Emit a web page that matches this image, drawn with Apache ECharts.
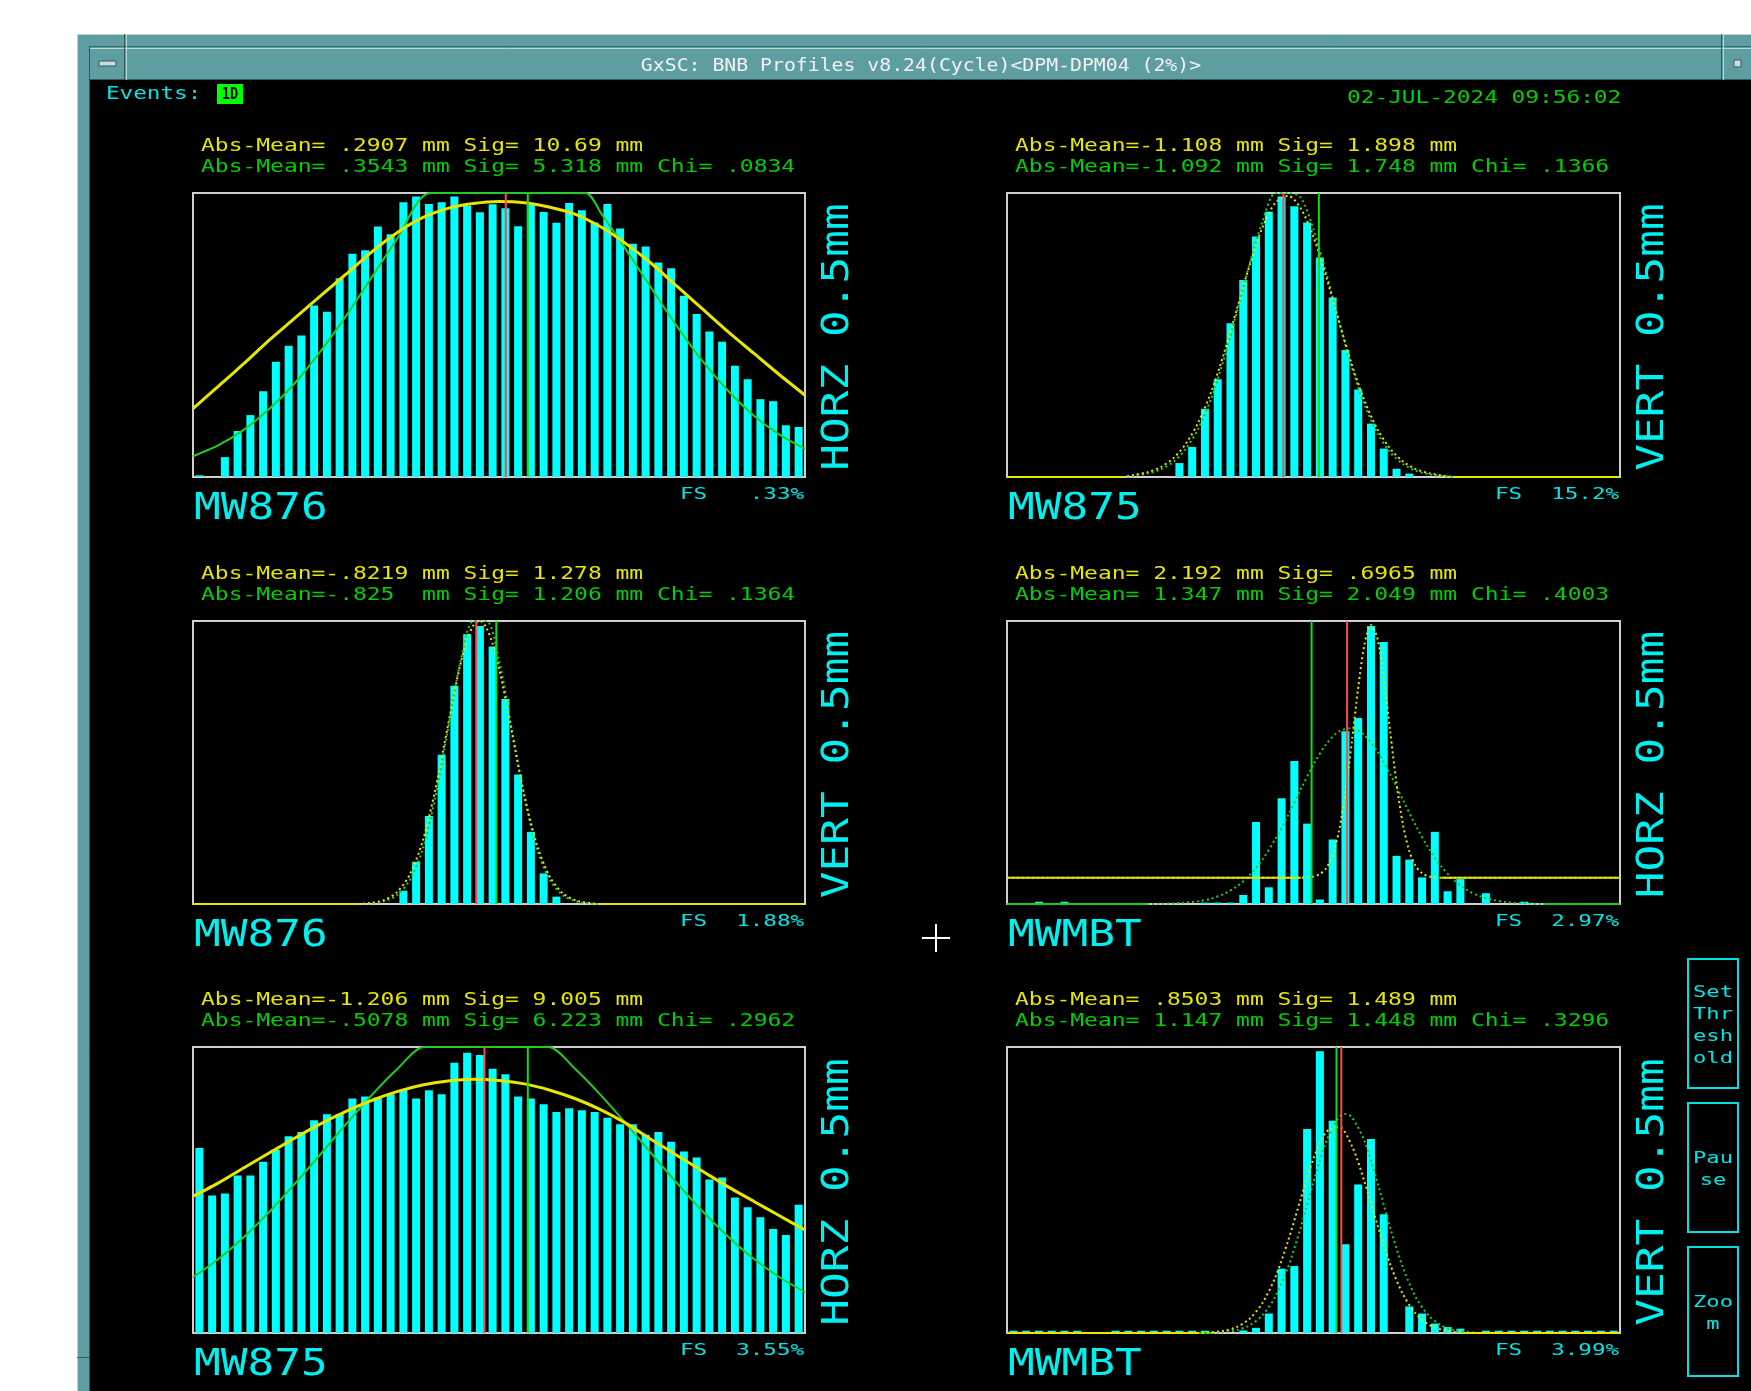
<!DOCTYPE html>
<html>
<head>
<meta charset="utf-8">
<script src="https://cdn.jsdelivr.net/npm/echarts@6/dist/echarts.min.js"></script>
<style>
html,body{margin:0;padding:0;background:#fff;}
#c{width:1751px;height:1391px;}
</style>
</head>
<body>
<div id="c"></div>
<script>
// ---- BNB multiwire profiles: 48 wires per plane, 0.5 mm pitch ----
const WIRES = 48;

// Wire signal, % of full scale, wire 0..47
const mw876HorzCounts = [0.6,0,7,16.2,21.8,30.2,40.6,46.2,49.8,60.4,58.2,70,78.6,79.8,88.2,85.5,96.7,98.8,96.1,96.7,98.8,95.5,93.2,96,94.6,88.3,96.4,93.3,89.5,96.5,93.9,89.6,96.1,87.5,82.1,81.2,75.5,73.5,63.8,57.4,51.2,47.6,39.2,34.4,27.4,26.7,18.2,17.6];
const mw875VertCounts = [0,0,0,0,0,0,0,0,0,0,0,0,0,4.9,10.6,24,34.4,54.1,69.4,84.7,93.4,98.8,95.3,89.6,77.3,63.2,44.7,30.8,18.8,10,2.9,1.2,0,0,0,0,0,0,0,0,0,0,0,0,0,0,0,0];
const mw876VertCounts = [0,0,0,0,0,0,0,0,0,0,0,0,0,0,0,0,4.7,14.9,31.1,52.7,77.1,95.3,98.2,91,72.4,45.8,25.5,10.8,2.6,0,0,0,0,0,0,0,0,0,0,0,0,0,0,0,0,0,0,0];
const mwmbtHorzCounts = [0,0,0.8,0,0.8,0,0,0,0,0,0,0,0,0,0,0.5,0.5,0.5,3.2,29,5.9,37.4,50.5,28.4,1.6,22.8,61,65.7,98.2,92.6,17,15.7,9.4,25.5,4.5,8.8,0,3.8,0,0,0.8,0,0,0,0,0,0,0];
const mw875HorzCounts = [64.7,48.1,48.8,55.1,55.1,59.9,64.1,68.8,70.3,74.4,76.5,76.6,82,82.7,82.3,83.5,85.2,82,84.9,83.5,94.5,98,97.2,92.4,90.5,82.7,82,80,77.3,78.6,77.9,77.3,75.3,73,73,69.3,70.3,66.9,63.5,61.4,53.7,54.4,47.4,44,40.5,36.4,34.3,44.8];
const mwmbtVertCounts = [0.8,0.8,0.8,0.8,0.8,0.8,0,0,0.8,0.8,0.8,0.8,0.8,0.8,0.8,0.8,0,0,0.9,1.8,6.8,22.5,23.4,71.3,98.5,74.2,31,51.9,67.8,41.5,0,9.3,6.8,3.3,2.1,1.5,0,0.8,0.8,0.8,0.8,0.8,0.8,0.8,0.8,0.8,0.8,0.8];

// Gaussian curves, [wire position, % of full scale] (yellow = raw moments, green = fit)
const mw876HorzYellow = [[0,24.1],[2,32],[4,40],[6,48.3],[8,56],[10,63.8],[12,71.4],[14,79.2],[16,86],[18,91.3],[20,94.6],[22,96.3],[24,97],[26,96.6],[28,95],[30,92.5],[32,88],[34,82],[36,75],[38,67],[40,59],[42,51],[44,43.5],[46,36],[48,28.8]];
const mw876HorzGreen = [[0,7.3],[2,11.2],[4,16.7],[6,24],[8,33.1],[10,44.2],[12,56.7],[14,70.2],[16,83.8],[18.6,100],[30.8,100],[32,92.9],[34,79.8],[36,66.1],[38,52.8],[40,40.6],[42,30.2],[44,21.6],[46,14.9],[48,9.9]];
const mw875VertYellow = [[0,0],[9,0],[10,0.8],[11,1.7],[12,3.4],[13,6.5],[14,11.7],[15,19.4],[16,30.1],[17,43.7],[18,59.1],[19,74.6],[20,87.8],[21,96.5],[22,99],[23,94.6],[24,84.5],[25,70.4],[26,54.7],[27,39.6],[28,26.8],[29,16.9],[30,10],[31,5.5],[32,2.8],[33,1.4],[34,0.6],[35,0],[48,0]];
const mw875VertGreen = [[0,0],[9,0],[10,0.5],[11,1.2],[12,2.6],[13,5.2],[14,9.9],[15,17.2],[16,27.8],[17,41.8],[18,58.1],[19,75.1],[20,89.9],[21,99.9],[22,100],[23,98.4],[24,87.2],[25,71.8],[26,54.7],[27,38.7],[28,25.4],[29,15.5],[30,8.7],[31,4.6],[32,2.2],[33,1],[34,0.4],[35,0],[48,0]];
const mw876VertYellow = [[0,0],[13,0],[14,0.4],[15,1.4],[16,4.2],[17,10.4],[18,22],[19,40.3],[20,63.2],[20.5,74.8],[21,85.2],[21.5,93.3],[22,98.5],[22.5,100],[23,97.7],[23.5,91.9],[24,83.3],[24.5,72.6],[25,60.9],[26,38.2],[27,20.6],[28,9.5],[29,3.8],[30,1.3],[31,0.4],[32,0],[48,0]];
const mw876VertGreen = [[0,0],[13,0],[14,0.25],[15,1],[16,3.1],[17,8.4],[18,19.2],[19,37.5],[20,61.8],[21,86.2],[22,100],[23,100],[24,86.2],[25,61.8],[26,37.5],[27,19.2],[28,8.4],[29,3.1],[30,1],[31,0.25],[32,0],[48,0]];
const mwmbtHorzYellow = [[0,9.3],[23,9.3],[24,9.7],[24.5,10.6],[25,12.7],[25.5,17.3],[26,25.9],[26.5,39.4],[27,57.2],[27.5,76.4],[28,91.9],[28.5,98.6],[29,94],[29.5,80],[30,61.1],[30.5,42.6],[31,28.2],[31.5,18.7],[32,13.4],[32.5,10.9],[33,9.8],[34,9.3],[48,9.3]];
const mwmbtHorzGreen = [[0,0],[11,0],[12,0.1],[13,0.2],[14,0.5],[15,1],[16,1.9],[17,3.6],[18,6.2],[19,10.2],[20,15.7],[21,22.9],[22,31.3],[23,40.5],[24,49.3],[25,56.5],[26,61],[27,62.1],[28,59.6],[29,53.9],[30,45.9],[31,36.8],[32,27.8],[33,19.8],[34,13.3],[35,8.4],[36,5],[37,2.8],[38,1.5],[39,0.7],[40,0.35],[41,0.15],[42,0],[48,0]];
const mw875HorzYellow = [[0,47.8],[2,52.5],[4,57.8],[6,63],[8,68.2],[10,73.1],[12,77.5],[14,81.3],[16,84.4],[18,86.7],[20,88.1],[22,88.7],[24,88.3],[26,87.1],[28,84.9],[30,81.9],[32,78],[34,73.2],[36,67.5],[38,62],[40,56.5],[42,51],[44,46],[46,41],[48,36]];
const mw875HorzGreen = [[0,19.5],[2,25.9],[4,33.6],[6,42.4],[8,52.2],[10,62.5],[12,73],[14,83.1],[16,92.2],[18.1,100],[27.9,100],[30,92.2],[32,83.1],[34,73],[36,62.5],[38,52.2],[40,42.4],[42,33.6],[44,25.9],[46,19.5],[48,14.3]];
const mwmbtVertYellow = [[0,0],[15,0],[16,0.3],[17,0.8],[18,2.1],[19,5],[20,10.5],[21,19.4],[22,32.1],[23,46.9],[24,61],[25,70.3],[26,72],[27,65.5],[28,52.8],[29,37.9],[30,24.1],[31,13.6],[32,6.8],[33,3],[34,1.2],[35,0.4],[36,0],[48,0]];
const mwmbtVertGreen = [[0,0],[16,0],[17,0.4],[18,1],[19,2.7],[20,6.2],[21,12.6],[22,22.9],[23,36.9],[24,52.8],[25,67],[26,75.5],[26.5,76.6],[27,75.5],[28,67],[29,52.8],[30,36.9],[31,22.9],[32,12.6],[33,6.2],[34,2.7],[35,1],[36,0.4],[37,0],[48,0]];

// Mean markers in wire-position units: red = raw mean, green = fit mean
const rawMeanPos = [24.53, 21.64, 22.22, 26.63, 22.86, 26.18];
const fitMeanPos = [26.26, 24.42, 23.79, 23.85, 26.26, 25.8];

// Labels
const detectorNames = ['MW876', 'MW875', 'MW876', 'MWMBT', 'MW875', 'MWMBT'];
const planeLabels = ['HORZ 0.5mm', 'VERT 0.5mm', 'VERT 0.5mm', 'HORZ 0.5mm', 'HORZ 0.5mm', 'VERT 0.5mm'];
const fullScaleLabels = ['.33%', '15.2%', '1.88%', '2.97%', '3.55%', '3.99%'];
const rawStatsLines = [
  'Abs-Mean= .2907 mm Sig= 10.69 mm',
  'Abs-Mean=-1.108 mm Sig= 1.898 mm',
  'Abs-Mean=-.8219 mm Sig= 1.278 mm',
  'Abs-Mean= 2.192 mm Sig= .6965 mm',
  'Abs-Mean=-1.206 mm Sig= 9.005 mm',
  'Abs-Mean= .8503 mm Sig= 1.489 mm'
];
const fitStatsLines = [
  'Abs-Mean= .3543 mm Sig= 5.318 mm Chi= .0834',
  'Abs-Mean=-1.092 mm Sig= 1.748 mm Chi= .1366',
  'Abs-Mean=-.825  mm Sig= 1.206 mm Chi= .1364',
  'Abs-Mean= 1.347 mm Sig= 2.049 mm Chi= .4003',
  'Abs-Mean=-.5078 mm Sig= 6.223 mm Chi= .2962',
  'Abs-Mean= 1.147 mm Sig= 1.448 mm Chi= .3296'
];
const windowTitle = 'GxSC: BNB Profiles v8.24(Cycle)<DPM-DPM04 (2%)>';
const eventsLabel = 'Events:';
const eventsValue = '1D';
const timestampLabel = '02-JUL-2024 09:56:02';
const buttonLabels = [['Set', 'Thr', 'esh', 'old'], ['Pau', 'se'], ['Zoo', 'm']];

// ---- layout ----
const panelLayout = [
  { left: 193,  top: 193,  w: 612, h: 284, broad: true },
  { left: 1007, top: 193,  w: 613, h: 284, broad: false },
  { left: 193,  top: 621,  w: 612, h: 283, broad: false },
  { left: 1007, top: 621,  w: 613, h: 283, broad: false },
  { left: 193,  top: 1047, w: 612, h: 286, broad: true },
  { left: 1007, top: 1047, w: 613, h: 286, broad: false }
];
const countsByPanel = [mw876HorzCounts, mw875VertCounts, mw876VertCounts, mwmbtHorzCounts, mw875HorzCounts, mwmbtVertCounts];
const yellowByPanel = [mw876HorzYellow, mw875VertYellow, mw876VertYellow, mwmbtHorzYellow, mw875HorzYellow, mwmbtVertYellow];
const greenByPanel = [mw876HorzGreen, mw875VertGreen, mw876VertGreen, mwmbtHorzGreen, mw875HorzGreen, mwmbtVertGreen];

const CYAN = '#00ffff';
const YELLOW = '#e6e600';
const RED = '#ff4a4a';
const TEAL = '#5f9ea0';
const MONO = '"DejaVu Sans Mono", "Liberation Mono", monospace';

// keep only the flat (baseline) stretch of a curve, gaps elsewhere
function flatPart(pts) {
  const base = pts[0][1];
  return pts.map(p => (p[1] === base ? p : [p[0], '-']));
}

const grids = [], xAxes = [], yAxes = [], series = [];
panelLayout.forEach((p, i) => {
  grids.push({ left: p.left, top: p.top, width: p.w, height: p.h, show: true,
    borderColor: '#d0d0d0', borderWidth: 2, backgroundColor: 'transparent' });
  xAxes.push({ gridIndex: i, type: 'value', min: 0, max: WIRES, show: false });
  yAxes.push({ gridIndex: i, type: 'value', min: 0, max: 100, show: false });

  series.push({ type: 'bar', xAxisIndex: i, yAxisIndex: i, barWidth: 8, z: 2,
    data: countsByPanel[i].map((v, k) => [k + 0.5, v]),
    itemStyle: { color: CYAN } });

  if (p.broad) {
    series.push({ type: 'line', xAxisIndex: i, yAxisIndex: i, data: greenByPanel[i], smooth: 0.25,
      showSymbol: false, z: 3, lineStyle: { color: '#22cc22', width: 2 } });
    series.push({ type: 'line', xAxisIndex: i, yAxisIndex: i, data: yellowByPanel[i], smooth: 0.25,
      showSymbol: false, z: 4, lineStyle: { color: YELLOW, width: 3 } });
  } else {
    [[greenByPanel[i], '#22cc22', 3], [yellowByPanel[i], YELLOW, 4]].forEach(([pts, col, z]) => {
      series.push({ type: 'line', xAxisIndex: i, yAxisIndex: i, data: flatPart(pts),
        showSymbol: false, z: z, lineStyle: { color: col, width: 2 } });
      series.push({ type: 'line', xAxisIndex: i, yAxisIndex: i, data: pts, smooth: 0.3,
        showSymbol: false, z: z, lineStyle: { color: col, width: 2, type: [2, 3] } });
    });
  }

  series.push({ type: 'line', xAxisIndex: i, yAxisIndex: i, showSymbol: false, z: 5,
    data: [[rawMeanPos[i], 0], [rawMeanPos[i], 100]], lineStyle: { color: RED, width: 2 } });
  series.push({ type: 'line', xAxisIndex: i, yAxisIndex: i, showSymbol: false, z: 5,
    data: [[fitMeanPos[i], 0], [fitMeanPos[i], 100]], lineStyle: { color: '#11dd11', width: 2 } });
});

// ---- window decoration and labels ----
function txt(x, y, s, fill, font, align, vAlign, scaleX, rotation) {
  return { type: 'text', x: x, y: y, scaleX: scaleX || 1, rotation: rotation || 0, silent: true, z: 10,
    style: { text: s, fill: fill, font: font, textAlign: align, align: align,
      textVerticalAlign: vAlign, verticalAlign: vAlign } };
}
function rect(x, y, w, h, fill, z) {
  return { type: 'rect', silent: true, z: z || 1, shape: { x: x, y: y, width: w, height: h }, style: { fill: fill } };
}
function line(x1, y1, x2, y2, stroke, lw) {
  return { type: 'line', silent: true, z: 11, shape: { x1: x1, y1: y1, x2: x2, y2: y2 },
    style: { stroke: stroke, lineWidth: lw || 1 } };
}

const g = [];
// desktop around the window
g.push(rect(0, 0, 1751, 34, '#ffffff'));
g.push(rect(0, 0, 77, 1391, '#ffffff'));
// outer frame and title bar
g.push(rect(77, 34, 1674, 46, TEAL));
g.push(rect(77, 34, 13, 1357, TEAL));
g.push(line(77, 34.5, 1751, 34.5, '#b8d8d8', 1));
g.push(line(77.5, 34, 77.5, 1391, '#b8d8d8', 1));
g.push(line(90, 46.5, 1751, 46.5, '#3a6a6c', 1));
g.push(line(90, 48.5, 1751, 48.5, '#b8d8d8', 1));
g.push(line(89.5, 46, 89.5, 1391, '#2e5a5c', 1));
g.push(line(90, 79.5, 1751, 79.5, '#2e5a5c', 1));
g.push(line(124.5, 34, 124.5, 80, '#2e5a5c', 1));
g.push(line(126.5, 34, 126.5, 80, '#b8d8d8', 1));
g.push(line(1721.5, 34, 1721.5, 80, '#2e5a5c', 1));
g.push(line(1723.5, 34, 1723.5, 80, '#b8d8d8', 1));
g.push(line(77, 1357.5, 90, 1357.5, '#2e5a5c', 1));
g.push({ type: 'rect', silent: true, z: 11, shape: { x: 99, y: 61, width: 17, height: 5 },
  style: { fill: '#c8dcdc', stroke: '#2e5a5c', lineWidth: 1 } });
g.push({ type: 'rect', silent: true, z: 11, shape: { x: 1734, y: 60, width: 7, height: 7 },
  style: { fill: '#c8dcdc', stroke: '#2e5a5c', lineWidth: 1 } });
g.push(txt(921, 66, windowTitle, '#f2f2f2', '18px ' + MONO, 'center', 'middle', 1.1));

// header line
g.push(txt(106, 95, eventsLabel, '#00e6e6', '17px ' + MONO, 'left', 'middle', 1.33));
g.push(rect(217, 84, 26, 20, '#00ff00', 9));
g.push(txt(230, 95, eventsValue, '#000000', 'bold 16px ' + MONO, 'center', 'middle', 0.85));
g.push(txt(1347, 99, timestampLabel, '#00d200', '17px ' + MONO, 'left', 'middle', 1.34));

// per-panel texts
panelLayout.forEach((p, i) => {
  const right = p.left + p.w;
  g.push(txt(p.left + 8, p.top - 46, rawStatsLines[i], YELLOW, '17px ' + MONO, 'left', 'middle', 1.35));
  g.push(txt(p.left + 8, p.top - 25, fitStatsLines[i], '#00d000', '17px ' + MONO, 'left', 'middle', 1.35));
  g.push(txt(p.left + 1, p.top + p.h + 32, detectorNames[i], '#00f0f0', '37px ' + MONO, 'left', 'middle', 1.2));
  g.push(txt(right - 125, p.top + p.h + 18, 'FS', '#00e6e6', '15px ' + MONO, 'left', 'middle', 1.5));
  g.push(txt(right - 1, p.top + p.h + 18, fullScaleLabels[i], '#00e6e6', '15px ' + MONO, 'right', 'middle', 1.5));
  g.push(txt(right + 33, p.top + p.h / 2 + 2, planeLabels[i], '#00f0f0', '37px ' + MONO, 'center', 'middle', 1.2, Math.PI / 2));
});

// cursor cross
g.push(line(922, 938, 950, 938, '#ffffff', 2));
g.push(line(936, 924, 936, 952, '#ffffff', 2));

// side buttons
const buttonBoxes = [[959, 129], [1103, 129], [1247, 129]];
const buttonTextY = [[993, 1015, 1037, 1059], [1159, 1181], [1303, 1325]];
buttonBoxes.forEach((b, k) => {
  g.push({ type: 'rect', silent: true, z: 11, shape: { x: 1688, y: b[0], width: 50, height: b[1] },
    style: { fill: 'transparent', stroke: '#00e0e0', lineWidth: 2 } });
  buttonLabels[k].forEach((s, j) => {
    g.push(txt(1713, buttonTextY[k][j], s, '#00e6e6', '16px ' + MONO, 'center', 'middle', 1.38));
  });
});

const chart = echarts.init(document.getElementById('c'), null, { renderer: 'canvas', width: 1751, height: 1391 });
chart.setOption({
  backgroundColor: '#000000',
  animation: false,
  grid: grids,
  xAxis: xAxes,
  yAxis: yAxes,
  series: series,
  graphic: { elements: g }
});
</script>
</body>
</html>
